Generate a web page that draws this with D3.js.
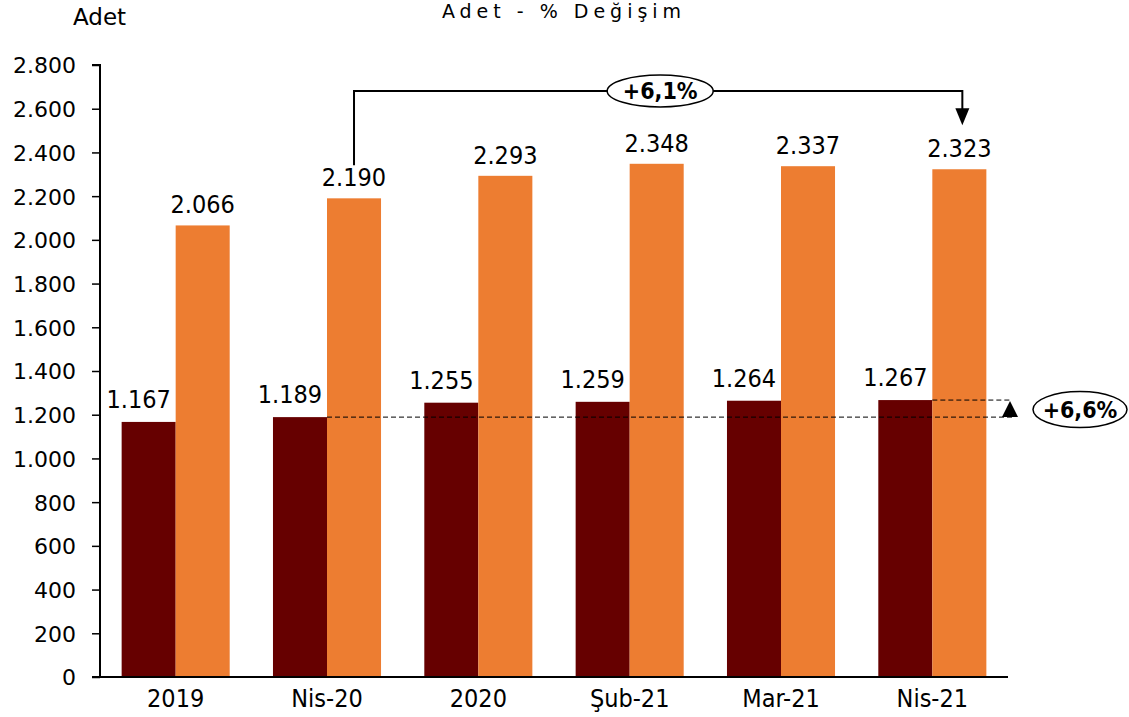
<!DOCTYPE html>
<html><head><meta charset="utf-8">
<script src="https://cdn.jsdelivr.net/npm/d3@7"></script>
<style>body{margin:0;background:#fff}svg{display:block}text{font-family:"DejaVu Sans Condensed","DejaVu Sans",sans-serif;fill:#000}</style>
</head><body>
<svg id="c" width="1129" height="717"></svg>
<script>
const categories = ["2019","Nis-20","2020","Şub-21","Mar-21","Nis-21"];
const seriesA = [1167,1189,1255,1259,1264,1267];
const seriesB = [2066,2190,2293,2348,2337,2323];
const yTicks = [0,200,400,600,800,1000,1200,1400,1600,1800,2000,2200,2400,2600,2800];
const annoTop = "+6,1%";
const annoRight = "+6,6%";
const colors = {a:"#660000", b:"#ED7D31"};
const fmt = v => d3.format(",")(v).replace(/,/g,".");

const svg = d3.select("#c");
const x0 = d3.scaleBand().domain(categories).range([100,1008]).paddingInner(0.286).paddingOuter(0.143);
const x1 = d3.scaleBand().domain(["a","b"]).range([0,x0.bandwidth()]);
const y = d3.scaleLinear().domain([0,2800]).range([677,65]);

// title
svg.append("text").attr("x",564).attr("y",18).attr("text-anchor","middle")
  .style("font-family","DejaVu Sans").style("font-size","19px").style("letter-spacing","5px").text("Adet - % Değişim");
svg.append("text").attr("x",73).attr("y",25).style("font-family","DejaVu Sans").style("font-size","23px").text("Adet");

// bars
const g = svg.append("g");
categories.forEach((c,i)=>{
  [["a",seriesA[i]],["b",seriesB[i]]].forEach(([k,v])=>{
    g.append("rect").attr("x",x0(c)+x1(k)).attr("y",y(v)).attr("width",x1.bandwidth())
      .attr("height",y(0)-y(v)).attr("fill",colors[k]);
    g.append("text").attr("x",x0(c)+x1(k)+x1.bandwidth()/2 + (k==="a"?-10:0))
      .attr("y",y(v)-(k==="a"?14:12)).attr("text-anchor","middle")
      .style("font-size","25px").text(fmt(v));
  });
});

// axes
const ya = svg.append("g").attr("transform","translate(100,0)")
  .call(d3.axisLeft(y).tickValues(yTicks).tickSize(8).tickPadding(16).tickFormat(fmt));
ya.select(".domain").attr("stroke","#000").attr("stroke-width",2).attr("d","M-8,"+y(2800)+"H0V"+y(0));
ya.selectAll(".tick line").attr("stroke","#000").attr("stroke-width",1.5);
ya.selectAll(".tick text").style("font-family","DejaVu Sans").style("font-size","22px").attr("font-family",null).attr("dy","0.36em");

const xa = svg.append("g").attr("transform","translate(0,"+y(0)+")")
  .call(d3.axisBottom(x0).tickSize(0).tickPadding(11));
xa.select(".domain").attr("stroke","#000").attr("stroke-width",2).attr("d","M92,0H1008");
xa.selectAll(".tick text").style("font-size","25px").attr("font-family",null).attr("dy","0.76em");

// top annotation bracket
const xL = x0("Nis-20")+x1("b")+x1.bandwidth()/2;
const xR = x0("Nis-21")+x1("b")+x1.bandwidth()/2 + 3;
const yH = 91;
const ann = svg.append("g");
ann.append("path").attr("d",`M${xL},${y(seriesB[1])-33}V${yH}H${xR}V${y(seriesB[5])-60}`)
  .attr("fill","none").attr("stroke","#000").attr("stroke-width",2);
ann.append("path").attr("d",`M${xR-7},${y(seriesB[5])-61}L${xR+7},${y(seriesB[5])-61}L${xR},${y(seriesB[5])-44}Z`).attr("fill","#000");
const ex = (xL+xR)/2+2;
ann.append("ellipse").attr("cx",ex).attr("cy",yH).attr("rx",53).attr("ry",16)
  .attr("fill","#fff").attr("stroke","#000").attr("stroke-width",1.5);
ann.append("text").attr("x",ex).attr("y",yH+8).attr("text-anchor","middle")
  .style("font-size","23px").style("font-weight","bold").text(annoTop);

// right annotation
const yA = y(seriesA[1]), yB = y(seriesA[5]);
const xs = x0("Nis-20")+x1("b");
ann.append("line").attr("x1",xs).attr("x2",1012).attr("y1",yA).attr("y2",yA)
  .attr("stroke","#000").attr("stroke-width",1).attr("stroke-dasharray","5,3");
ann.append("line").attr("x1",x0("Nis-21")+x1("b")).attr("x2",1012).attr("y1",yB).attr("y2",yB)
  .attr("stroke","#000").attr("stroke-width",1).attr("stroke-dasharray","5,3");
ann.append("path").attr("d",`M1010,${yB+1}L1018,${yA}L1002,${yA}Z`).attr("fill","#000");
ann.append("ellipse").attr("cx",1080).attr("cy",(yA+yB)/2+1).attr("rx",47).attr("ry",18)
  .attr("fill","#fff").attr("stroke","#000").attr("stroke-width",1.5);
ann.append("text").attr("x",1080).attr("y",(yA+yB)/2+9).attr("text-anchor","middle")
  .style("font-size","23px").style("font-weight","bold").text(annoRight);
</script>
</body></html>
